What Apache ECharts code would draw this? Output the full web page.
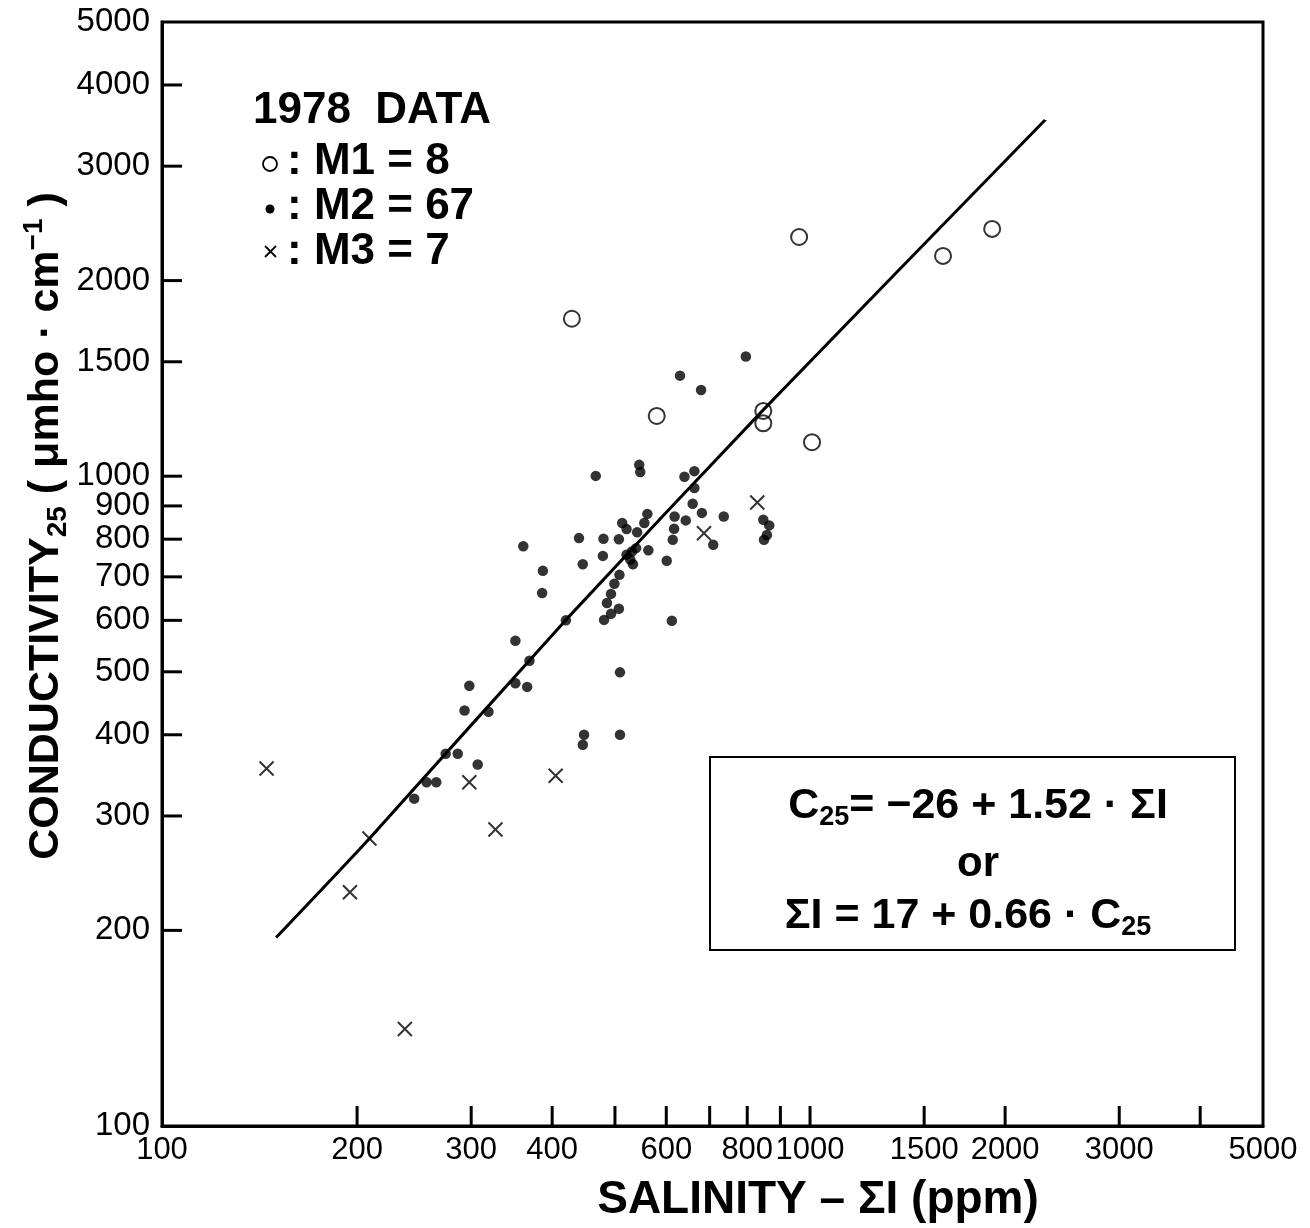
<!DOCTYPE html>
<html><head><meta charset="utf-8">
<script src="https://cdn.jsdelivr.net/npm/echarts@6/dist/echarts.min.js"></script>
<style>html,body{margin:0;padding:0;background:#fff}#c{width:1310px;height:1228px}</style>
</head><body><div id="c"></div>
<script>
// ---- data ----
const xTicks = [100,200,300,400,500,600,700,800,900,1000,1500,2000,3000,4000,5000];
const xLabels = [100,200,300,400,600,800,1000,1500,2000,3000,5000];
const yTicks = [100,200,300,400,500,600,700,800,900,1000,1500,2000,3000,4000,5000];
const yLabels = [100,200,300,400,500,600,700,800,900,1000,1500,2000,3000,4000,5000];

// M1 (open circles)
const m1 = [[429,1747],[580,1238],[847,1260],[847,1206],[962,2334],[1007,1128],[1604,2183],[1910,2402]];
// M2 (dots)
const m2 = [
  [796,1528],[630,1428],[679,1357],
  [467,1001],[545,1041],[547,1015],[640,998],[663,1018],[663,959],[659,907],[681,878],[736,867],
  [643,855],[618,867],[617,830],[614,798],[561,875],[555,847],[513,847],[521,829],[541,820],
  [507,800],[480,801],[440,803],[709,784],[847,857],[865,840],[858,812],[849,798],
  [563,769],[539,775],[531,766],[521,757],[528,744],[533,732],[479,754],[446,732],[601,741],
  [508,705],[499,683],[493,659],[486,638],[507,625],[493,614],[481,601],[612,599],[420,600],
  [361,780],[387,715],[386,661],
  [351,558],[369,520],[509,499],[298,476],[351,480],[366,474],[293,436],[319,434],[448,400],
  [446,386],[509,400],[274,374],[286,374],[307,360],[256,338],[265,338],[245,319]
];
// M3 (crosses)
const m3 = [[145,355],[209,277],[195,229],[237,141],[298,338],[327,286],[405,346],[686,817],[829,911]];
// regression line as drawn
const fitLine = [[150,195],[209,277],[420,601],[847,1265],[2305,3533]];

// ---- chart ----
const FONT = '"Liberation Sans", Arial, Helvetica, sans-serif';
const chart = echarts.init(document.getElementById('c'), null, {renderer: 'canvas'});

function tickSeries(values, labels, dim) {
  return {
    type: 'custom',
    coordinateSystem: 'cartesian2d',
    clip: false, silent: true, z: 5,
    data: values.map(v => dim === 'x' ? [v, 100] : [100, v]),
    renderItem: function (params, api) {
      const xv = api.value(0), yv = api.value(1);
      const v = dim === 'x' ? xv : yv;
      const p = api.coord([xv, yv]);
      const children = [];
      const edge = (v === 100 || v === 5000);
      if (!edge) {
        children.push({
          type: 'line',
          shape: dim === 'x'
            ? {x1: p[0], y1: p[1], x2: p[0], y2: p[1] - 20}
            : {x1: p[0], y1: p[1], x2: p[0] + 20, y2: p[1]},
          style: {stroke: '#000', lineWidth: 3}
        });
      }
      if (labels.indexOf(v) >= 0) {
        children.push({
          type: 'text',
          x: dim === 'x' ? p[0] : p[0] - 12,
          y: dim === 'x' ? p[1] + 9 : p[1],
          style: {
            text: String(v),
            font: (dim === 'x' ? '31px ' : '33px ') + FONT,
            fill: '#000',
            align: dim === 'x' ? 'center' : 'right',
            verticalAlign: dim === 'x' ? 'top' : 'middle'
          }
        });
      }
      return {type: 'group', children: children};
    }
  };
}

const subRich = {
  b: {fontSize: 43, fontWeight: 'bold', fontFamily: FONT, lineHeight: 50, verticalAlign: 'middle'},
  sub: {fontSize: 27, fontWeight: 'bold', fontFamily: FONT, lineHeight: 27, verticalAlign: 'bottom'}
};

const option = {
  animation: false,
  backgroundColor: '#fff',
  grid: {left: 162, right: 47, top: 22, bottom: 102, show: true, borderColor: '#000', borderWidth: 3, containLabel: false, outerBoundsMode: 'none'},
  xAxis: {
    type: 'log', logBase: 10, min: 100, max: 5000,
    axisLine: {show: true, lineStyle: {color: '#000', width: 3}},
    axisTick: {show: false}, axisLabel: {show: false}, splitLine: {show: false}, minorTick: {show: false}
  },
  yAxis: {
    type: 'log', logBase: 10, min: 100, max: 5000,
    axisLine: {show: true, lineStyle: {color: '#000', width: 3}},
    axisTick: {show: false}, axisLabel: {show: false}, splitLine: {show: false}, minorTick: {show: false}
  },
  series: [
    tickSeries(xTicks, xLabels, 'x'),
    tickSeries(yTicks, yLabels, 'y'),
    {
      type: 'line', name: 'fit', data: fitLine, showSymbol: false, smooth: 0.2,
      lineStyle: {color: '#000', width: 3}, z: 2, silent: true
    },
    {
      type: 'scatter', name: 'M1', data: m1, symbol: 'circle', symbolSize: 16,
      itemStyle: {color: 'rgba(255,255,255,0)', borderColor: '#000', borderWidth: 2}, z: 3
    },
    {
      type: 'scatter', name: 'M2', data: m2, symbol: 'circle', symbolSize: 10.5,
      itemStyle: {color: '#000'}, z: 3
    },
    {
      type: 'scatter', name: 'M3', data: m3, symbol: 'path://M0,0L10,10M10,0L0,10', symbolSize: 14,
      itemStyle: {color: 'none', borderColor: '#000', borderWidth: 2}, z: 3
    }
  ],
  graphic: {elements: [
    // legend block
    {type: 'text', x: 253, y: 111, style: {text: '1978  DATA', font: 'bold 44px ' + FONT, fill: '#000', align: 'left', verticalAlign: 'middle'}},
    {type: 'circle', shape: {cx: 270, cy: 164, r: 7}, style: {fill: 'none', stroke: '#000', lineWidth: 1.8}},
    {type: 'circle', shape: {cx: 270, cy: 209, r: 4.5}, style: {fill: '#000'}},
    {type: 'group', children: [
      {type: 'line', shape: {x1: 265, y1: 246, x2: 276, y2: 257}, style: {stroke: '#000', lineWidth: 1.8}},
      {type: 'line', shape: {x1: 276, y1: 246, x2: 265, y2: 257}, style: {stroke: '#000', lineWidth: 1.8}}
    ]},
    {type: 'text', x: 287, y: 162, style: {text: ': M1 = 8', font: 'bold 44px ' + FONT, fill: '#000', align: 'left', verticalAlign: 'middle'}},
    {type: 'text', x: 287, y: 207, style: {text: ': M2 = 67', font: 'bold 44px ' + FONT, fill: '#000', align: 'left', verticalAlign: 'middle'}},
    {type: 'text', x: 287, y: 252, style: {text: ': M3 = 7', font: 'bold 44px ' + FONT, fill: '#000', align: 'left', verticalAlign: 'middle'}},
    // equation box
    {type: 'rect', shape: {x: 710, y: 757, width: 525, height: 193}, style: {fill: 'none', stroke: '#000', lineWidth: 2}},
    {type: 'text', x: 978, y: 806, style: {text: '{b|C}{sub|25}{b|= −26 + 1.52 · ΣI}', rich: subRich, align: 'center', verticalAlign: 'middle', fill: '#000'}},
    {type: 'text', x: 978, y: 864, style: {text: 'or', font: 'bold 42px ' + FONT, fill: '#000', align: 'center', verticalAlign: 'middle'}},
    {type: 'text', x: 968, y: 916, style: {text: '{b|ΣI = 17 + 0.66 · C}{sub|25}', rich: subRich, align: 'center', verticalAlign: 'middle', fill: '#000'}},
    // axis titles
    {type: 'text', x: 818, y: 1200, style: {text: 'SALINITY – ΣI (ppm)', font: 'bold 46px ' + FONT, fill: '#000', align: 'center', verticalAlign: 'middle'}},
    {type: 'text', x: 46, y: 526, rotation: Math.PI / 2, style: {
      text: '{b|CONDUCTIVITY}{sub|25}{b| ( μmho · cm}{sup|−1}{b| )}',
      rich: {
        b: {fontSize: 43, fontWeight: 'bold', fontFamily: FONT, lineHeight: 52, verticalAlign: 'middle'},
        sub: {fontSize: 28, fontWeight: 'bold', fontFamily: FONT, lineHeight: 28, verticalAlign: 'bottom'},
        sup: {fontSize: 28, fontWeight: 'bold', fontFamily: FONT, lineHeight: 28, verticalAlign: 'top'}
      },
      align: 'center', verticalAlign: 'middle', fill: '#000'
    }}
  ]}
};
chart.setOption(option);
</script>
</body></html>
